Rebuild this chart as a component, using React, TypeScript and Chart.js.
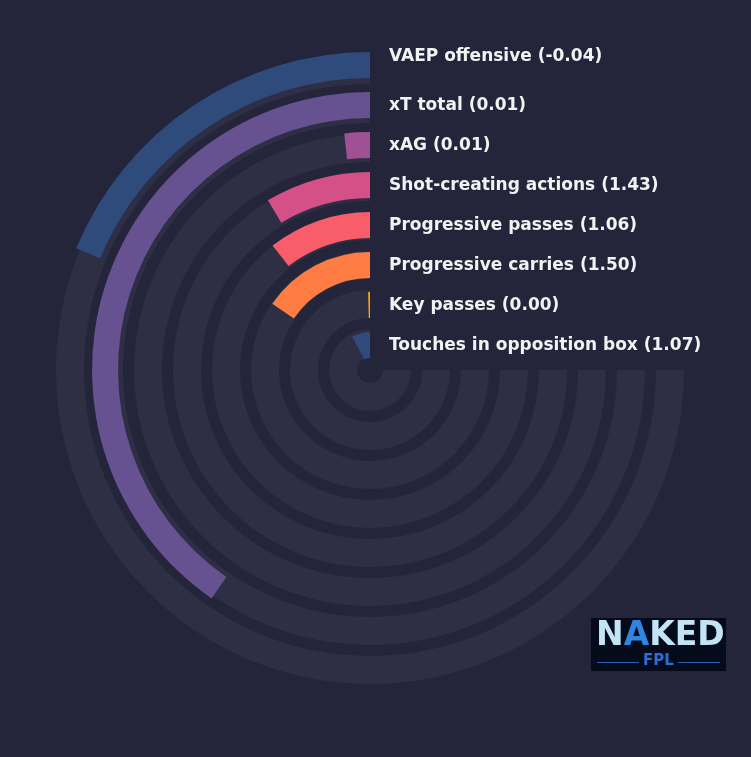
import React, { useEffect, useRef } from 'react';
import { Chart, registerables } from 'chart.js';

Chart.register(...registerables);

// metrics, outermost ring first
const metrics = [
  'VAEP offensive',
  'xT total',
  'xAG',
  'Shot-creating actions',
  'Progressive passes',
  'Progressive carries',
  'Key passes',
  'Touches in opposition box',
];
// per-90 values printed in the labels
const shownValues = ['-0.04', '0.01', '0.01', '1.43', '1.06', '1.50', '0.00', '1.07'];
// percentile (share of the 270 degree track)
const percentiles = [25.0, 53.8, 2.3, 11.5, 14.1, 20.7, 0.5, 10.4];
const barColors = ['#2f4b7c', '#665191', '#a05195', '#d45087', '#f95d6a', '#ff7c43', '#ffa600', '#2f4b7c'];

const BG = '#24253a';
const TRACK = '#2e2f45';

const ringLabels = {
  id: 'ringLabels',
  afterDatasetsDraw(chart: any) {
    const ctx = chart.ctx;
    ctx.save();
    ctx.font = 'bold 17px "DejaVu Sans"';
    ctx.fillStyle = '#f2f2f2';
    ctx.textBaseline = 'middle';
    ctx.textAlign = 'left';
    metrics.forEach((m, i) => {
      const arc = chart.getDatasetMeta(i * 2).data[0];
      const r = (arc.innerRadius + arc.outerRadius) / 2;
      const nudge = i === 0 ? -8 : 1;
      ctx.fillText(`${m} (${shownValues[i]})`, arc.x + 19, arc.y - r + nudge);
    });
    ctx.restore();
  },
};

// build concentric rings with empty rings between them
function ringDatasets(ringWeight: number, gapWeight: number, makeRing: (i: number) => any) {
  const out: any[] = [];
  metrics.forEach((_, i) => {
    out.push({ ...makeRing(i), borderWidth: 0, weight: ringWeight });
    if (i < metrics.length - 1) {
      out.push({ data: [100], backgroundColor: ['rgba(0,0,0,0)'], borderWidth: 0, weight: gapWeight });
    }
  });
  return out;
}

function baseOptions(radius: number, inner: number): any {
  return {
    responsive: false,
    animation: false,
    rotation: 90,
    circumference: 270,
    radius,
    cutout: `${(inner / radius) * 100}%`,
    layout: { padding: { left: 52, top: 52, right: 63, bottom: 69 } },
    plugins: {
      legend: { display: false },
      tooltip: { enabled: false },
    },
  };
}

const RadialChart = () => {
  const trackRef = useRef<HTMLCanvasElement>(null);
  const barRef = useRef<HTMLCanvasElement>(null);

  useEffect(() => {
    if (!trackRef.current || !barRef.current) return;

    const tracks = new Chart(trackRef.current, {
      type: 'doughnut',
      data: {
        labels: ['track'],
        datasets: ringDatasets(28, 11, () => ({ data: [100], backgroundColor: [TRACK] })),
      },
      options: baseOptions(314, 13),
    });

    const bars = new Chart(barRef.current, {
      type: 'doughnut',
      data: {
        labels: ['rest', 'value'],
        datasets: ringDatasets(26, 14, (i) => ({
          data: [100 - percentiles[i], percentiles[i]],
          backgroundColor: ['rgba(0,0,0,0)', barColors[i]],
        })),
      },
      options: baseOptions(318, 12),
      plugins: [ringLabels],
    });

    return () => {
      tracks.destroy();
      bars.destroy();
    };
  }, []);

  const style: React.CSSProperties = { position: 'absolute', left: 0, top: 0, width: 751, height: 757 };
  return (
    <>
      <canvas ref={trackRef} width={751} height={757} style={style} />
      <canvas ref={barRef} width={751} height={757} style={style} />
    </>
  );
};

const Logo = () => (
  <div
    style={{
      position: 'absolute',
      left: 591,
      top: 618,
      width: 135,
      height: 53,
      background: '#060b1c',
      fontFamily: '"DejaVu Sans", sans-serif',
      fontWeight: 'bold',
    }}
  >
    <div style={{ position: 'absolute', left: 5, top: -2, fontSize: 33, color: '#c3e4f6', lineHeight: '36px' }}>
      N<span style={{ color: '#2f86df' }}>A</span>KED
    </div>
    <div style={{ position: 'absolute', left: 6, right: 6, top: 44, height: 1, background: '#2a5fb8' }} />
    <div
      style={{
        position: 'absolute',
        left: 0,
        right: 0,
        top: 33,
        textAlign: 'center',
        fontSize: 15,
        color: '#2c6ed6',
      }}
    >
      <span style={{ background: '#060b1c', padding: '0 4px' }}>FPL</span>
    </div>
  </div>
);

export default function App() {
  return (
    <div style={{ position: 'fixed', left: 0, top: 0, width: 751, height: 757, background: BG, overflow: 'hidden' }}>
      <RadialChart />
      <Logo />
    </div>
  );
}
